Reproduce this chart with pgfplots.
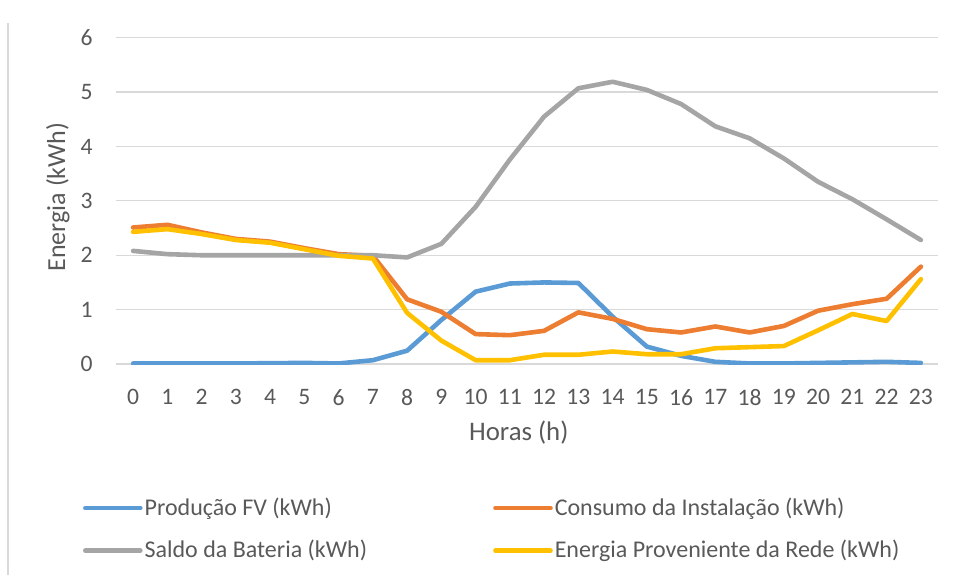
\documentclass[border=0pt]{standalone}
\usepackage{pgfplots}
\pgfplotsset{compat=1.18}
\usepackage{fontspec}
\setmainfont{Carlito}
\definecolor{cFV}{HTML}{5B9BD5}
\definecolor{cCons}{HTML}{ED7D31}
\definecolor{cSaldo}{HTML}{A5A5A5}
\definecolor{cRede}{HTML}{FFC000}
\definecolor{cGrid}{HTML}{D9D9D9}
\definecolor{cText}{HTML}{595959}
\begin{document}
\begin{tikzpicture}
\useasboundingbox (0,0) rectangle (478pt,287.5pt);
\draw[cGrid, line width=1pt] (4pt,0pt) -- (4pt,276pt);
\begin{axis}[
  at={(58pt,105.5pt)}, anchor=south west,
  scale only axis, width=411pt, height=163.15pt,
  xmin=-0.5, xmax=23.5, ymin=0, ymax=6,
  axis line style={draw=none},
  ymajorgrids, grid style={cGrid, line width=0.6pt},
  xtick={0,...,23}, ytick={0,...,6},
  major tick length=0pt,
  /pgf/number format/assume math mode=true,
  tick label style={font=\fontsize{11.8}{14}\selectfont, text=cText},
  yticklabel style={anchor=east, inner sep=0pt, xshift=-11.5pt},
  xticklabel style={anchor=north, inner sep=0pt, yshift=-12.5pt},
  xlabel={Horas (h)}, ylabel={Energia (kWh)},
  label style={text=cText},
  xlabel style={font=\fontsize{13.4}{15}\selectfont, at={(axis description cs:0.49,0)}, anchor=north, inner sep=0pt, yshift=-28pt},
  ylabel style={font=\fontsize{13}{15}\selectfont, at={(axis description cs:-0.0706,0.512)}, anchor=center, inner sep=0pt},
  legend columns=2,
  legend cell align=left,
  legend style={draw=none, fill=none, inner sep=0pt, outer sep=0pt,
    at={(axis description cs:-0.0401,-0.41)}, anchor=north west,
    font=\fontsize{12}{14}\selectfont, text=cText,
    nodes={inner sep=0pt},
    row sep=11pt,
    /tikz/every odd column/.append style={column sep=1pt},
    /tikz/every even column/.append style={column sep=63pt}},
  legend image code/.code={\draw[#1] (0pt,0pt) -- (27.5pt,0pt);},
  every axis plot/.append style={line width=2.3pt, line cap=round, line join=round, mark=none},
]
\addplot[cFV] coordinates {(0,0.01)(1,0.01)(2,0.01)(3,0.01)(4,0.015)(5,0.02)(6,0.01)(7,0.07)(8,0.245)(9,0.81)(10,1.33)(11,1.48)(12,1.50)(13,1.49)(14,0.87)(15,0.32)(16,0.15)(17,0.04)(18,0.01)(19,0.01)(20,0.02)(21,0.03)(22,0.04)(23,0.02)};
\addlegendentry{Produção FV (kWh)}
\addplot[cCons] coordinates {(0,2.51)(1,2.56)(2,2.42)(3,2.30)(4,2.25)(5,2.13)(6,2.02)(7,1.99)(8,1.19)(9,0.96)(10,0.55)(11,0.53)(12,0.61)(13,0.95)(14,0.83)(15,0.64)(16,0.58)(17,0.69)(18,0.58)(19,0.70)(20,0.98)(21,1.10)(22,1.20)(23,1.79)};
\addlegendentry{Consumo da Instalação (kWh)}
\addplot[cSaldo] coordinates {(0,2.08)(1,2.02)(2,2.00)(3,2.00)(4,2.00)(5,2.00)(6,2.00)(7,2.00)(8,1.96)(9,2.21)(10,2.89)(11,3.76)(12,4.55)(13,5.07)(14,5.19)(15,5.04)(16,4.78)(17,4.37)(18,4.15)(19,3.78)(20,3.35)(21,3.03)(22,2.66)(23,2.28)};
\addlegendentry{Saldo da Bateria (kWh)}
\addplot[cRede] coordinates {(0,2.43)(1,2.48)(2,2.39)(3,2.28)(4,2.23)(5,2.11)(6,1.99)(7,1.94)(8,0.94)(9,0.43)(10,0.07)(11,0.07)(12,0.17)(13,0.17)(14,0.23)(15,0.18)(16,0.18)(17,0.29)(18,0.31)(19,0.33)(20,0.62)(21,0.92)(22,0.79)(23,1.56)};
\addlegendentry{Energia Proveniente da Rede (kWh)}
\end{axis}
\end{tikzpicture}
\end{document}
